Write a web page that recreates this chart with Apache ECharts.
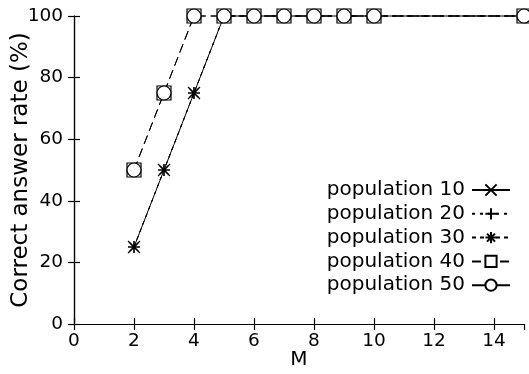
<!DOCTYPE html>
<html>
<head>
<meta charset="utf-8">
<script src="https://cdn.jsdelivr.net/npm/echarts@6/dist/echarts.min.js"></script>
<style>
  html, body { margin: 0; padding: 0; background: #fff; }
  #chart { width: 529px; height: 374px; }
</style>
</head>
<body>
<div id="chart"></div>
<script>
// M values (x) and correct answer rate (%) for each population size
const mValues = [2, 3, 4, 5, 6, 7, 8, 9, 10, 15];
const pop10 = [25, 50, 75, 100, 100, 100, 100, 100, 100, 100];
const pop20 = [25, 50, 75, 100, 100, 100, 100, 100, 100, 100];
const pop30 = [25, 50, 75, 100, 100, 100, 100, 100, 100, 100];
const pop40 = [50, 75, 100, 100, 100, 100, 100, 100, 100, 100];
const pop50 = [50, 75, 100, 100, 100, 100, 100, 100, 100, 100];
const seriesNames = ['population 10', 'population 20', 'population 30', 'population 40', 'population 50'];

const FONT = 'DejaVu Sans, Liberation Sans, Arial, sans-serif';

const CROSS = 'path://M0,0L10,10M10,0L0,10';
const PLUS = 'path://M5,0L5,10M0,5L10,5';
const STAR = 'path://M0,0L10,10M10,0L0,10M5,-2L5,12M-2,5L12,5';

function pairs(vals) {
  return mValues.map((m, i) => [m, vals[i]]);
}

function lineSeries(name, vals, symbol, size, dash) {
  return {
    name: name,
    type: 'line',
    data: pairs(vals),
    symbol: symbol,
    symbolSize: size,
    showAllSymbol: true,
    clip: false,
    lineStyle: { color: '#000', width: 1, type: dash },
    itemStyle: { color: '#fff', borderColor: '#000', borderWidth: 1.2 },
    emphasis: { disabled: true },
    animation: false
  };
}

const chart = echarts.init(document.getElementById('chart'), null, { renderer: 'canvas' });

const axisCommon = {
  axisLine: { show: true, lineStyle: { color: '#000', width: 1.2 } },
  splitLine: { show: false },
  axisTick: { show: true, inside: true, length: 6, lineStyle: { color: '#000', width: 1.2 } }
};

chart.setOption({
  backgroundColor: '#fff',
  animation: false,
  grid: { left: 74, right: 5, top: 16, bottom: 50, containLabel: false, outerBoundsMode: 'none' },
  legend: {
    right: 13,
    top: 175,
    orient: 'vertical',
    align: 'right',
    itemWidth: 38,
    itemHeight: 14,
    itemGap: 3.8,
    textStyle: { fontFamily: FONT, fontSize: 20, color: '#000', padding: [0, 2, 0, 0] },
    data: seriesNames.map((n, i) => i === 4
      ? { name: n, lineStyle: { type: 'solid' } }
      : { name: n })
  },
  xAxis: [
    Object.assign({
      type: 'value', min: 0, max: 15, interval: 2, position: 'bottom',
      name: 'M', nameLocation: 'middle', nameGap: 26, nameMoveOverlap: false,
      nameTextStyle: { fontFamily: FONT, fontSize: 20, color: '#000' },
      axisLabel: { fontFamily: FONT, fontSize: 18.5, color: '#000', margin: 8,
        showMaxLabel: false }
    }, axisCommon),
    Object.assign({
      type: 'value', min: 0, max: 15, interval: 2, position: 'top',
      axisLabel: { show: false }
    }, axisCommon)
  ],
  yAxis: [
    Object.assign({
      type: 'value', min: 0, max: 100, interval: 20, position: 'left',
      name: 'Correct answer rate (%)', nameLocation: 'middle', nameGap: 41, nameMoveOverlap: false,
      nameTextStyle: { fontFamily: FONT, fontSize: 23, color: '#000' },
      axisLabel: { fontFamily: FONT, fontSize: 18.5, color: '#000', margin: 11 }
    }, axisCommon),
    Object.assign({
      type: 'value', min: 0, max: 100, interval: 20, position: 'right',
      axisLabel: { show: false }
    }, axisCommon)
  ],
  series: [
    lineSeries(seriesNames[0], pop10, CROSS, 12, 'solid'),
    lineSeries(seriesNames[1], pop20, PLUS, 12, [3, 5]),
    lineSeries(seriesNames[2], pop30, STAR, 12, [4, 4]),
    lineSeries(seriesNames[3], pop40, 'rect', 14, [9, 5]),
    lineSeries(seriesNames[4], pop50, 'circle', 14, [9, 5])
  ]
});
</script>
</body>
</html>
